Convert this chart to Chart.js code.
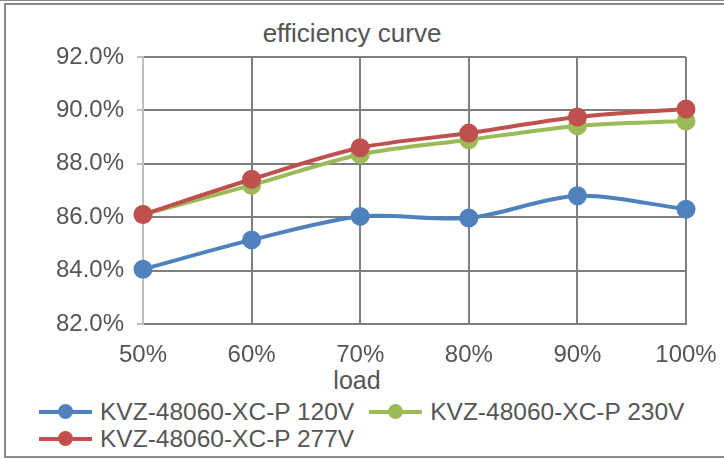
<!DOCTYPE html>
<html lang="en">
<head>
<meta charset="UTF-8">
<title>efficiency curve</title>
<script src="https://cdn.jsdelivr.net/npm/chart.js@4/dist/chart.umd.min.js"></script>
<style>
    html, body { margin: 0; padding: 0; background: #fff; }
    #wrap { position: relative; width: 724px; height: 459px; overflow: hidden;
            font-family: "Liberation Sans", Arial, sans-serif; color: #555; }
    #frame { position: absolute; left: 4px; top: 3px; width: 730px; height: 451px;
             border-left: 2px solid #8a8a8a; border-top: 2px solid #8a8a8a; border-bottom: 2px solid #8a8a8a; }
    #topline { position: absolute; left: 0; top: 0; width: 724px; height: 1px; background: #8a8a8a; }
    #title { position: absolute; left: 0; width: 704px; top: 18px; line-height: 30px; text-align: center; font-size: 26px; }
    #xtitle { position: absolute; left: 0; width: 714px; top: 365px; line-height: 30px; text-align: center; font-size: 25px; }
    #legend { position: absolute; left: 39px; top: 398px; width: 685px; font-size: 24.5px; line-height: 27px; }
    .item { display: inline-block; height: 27px; white-space: nowrap; margin-right: 15px; }
    .mark { display: inline-block; position: relative; width: 53px; height: 27px; vertical-align: top; margin-right: 8px; }
    .mark .ln { position: absolute; left: 0; right: 0; top: 12px; height: 4px; }
    .mark .dt { position: absolute; left: 19px; top: 6px; width: 15px; height: 15px; border-radius: 50%; }
    canvas { position: absolute; left: 0; top: 0; }
</style>
</head>
<body>
<div id="wrap">
    <div id="topline"></div>
    <div id="frame"></div>
    <div id="title">efficiency curve</div>
    <div id="xtitle">load</div>
    <div id="legend"></div>
    <canvas id="chart" width="724" height="459"></canvas>
</div>

<script>
var loads = ['50%', '60%', '70%', '80%', '90%', '100%'];
var seriesNames = ['KVZ-48060-XC-P 120V', 'KVZ-48060-XC-P 230V', 'KVZ-48060-XC-P 277V'];
var eff120 = [84.05, 85.15, 86.03, 85.97, 86.8, 86.3];
var eff230 = [86.1, 87.2, 88.35, 88.9, 89.42, 89.6];
var eff277 = [86.1, 87.42, 88.6, 89.15, 89.75, 90.05];
var colors = ['#4f81bd', '#9bbb59', '#c0504d'];

var allValues = [eff120, eff230, eff277];
var datasets = [];
seriesNames.forEach(function (name, i) {
    datasets.push({
        label: name,
        data: allValues[i],
        borderColor: colors[i],
        backgroundColor: colors[i],
        borderWidth: 4,
        pointRadius: 7.5,
        pointHoverRadius: 7.5,
        tension: 0.3,
        order: 2 - i
    });
});

// legend as html, two items on the first row
var legend = document.getElementById('legend');
seriesNames.forEach(function (name, i) {
    var item = document.createElement('div');
    item.className = 'item';
    item.innerHTML = '<span class="mark"><span class="ln" style="background:' + colors[i] + '"></span>' +
        '<span class="dt" style="background:' + colors[i] + '"></span></span>' + name;
    legend.appendChild(item);
    if (i === 1) legend.appendChild(document.createElement('br'));
});

var tickFont = { family: 'Liberation Sans', size: 24 };

var ctx = document.getElementById('chart').getContext('2d');
var chart = new Chart(ctx, {
    type: 'line',
    data: { labels: loads, datasets: datasets },
    options: {
        responsive: false,
        animation: false,
        events: [],
        layout: { padding: { left: 0, right: 38, top: 57, bottom: 85 } },
        plugins: { legend: { display: false }, title: { display: false }, tooltip: { enabled: false } },
        scales: {
            x: {
                offset: false,
                afterFit: function (s) { s.height = 50; s.paddingLeft = 0; s.paddingRight = 0; },
                grid: { color: '#7f7f7f', lineWidth: 2, drawTicks: false },
                border: { color: '#7f7f7f', width: 2 },
                ticks: { color: '#555', padding: 17, maxRotation: 0, font: tickFont }
            },
            y: {
                min: 82, max: 92,
                afterFit: function (s) { s.width = 143; s.paddingTop = 0; s.paddingBottom = 0; },
                grid: { color: '#7f7f7f', lineWidth: 2, tickLength: 6, tickColor: '#bfbfbf' },
                border: { color: '#bfbfbf', width: 2 },
                ticks: { stepSize: 2, color: '#555', padding: 13, font: tickFont,
                         callback: function (v) { return v.toFixed(1) + '%'; } }
            }
        }
    }
});
</script>
</body>
</html>
